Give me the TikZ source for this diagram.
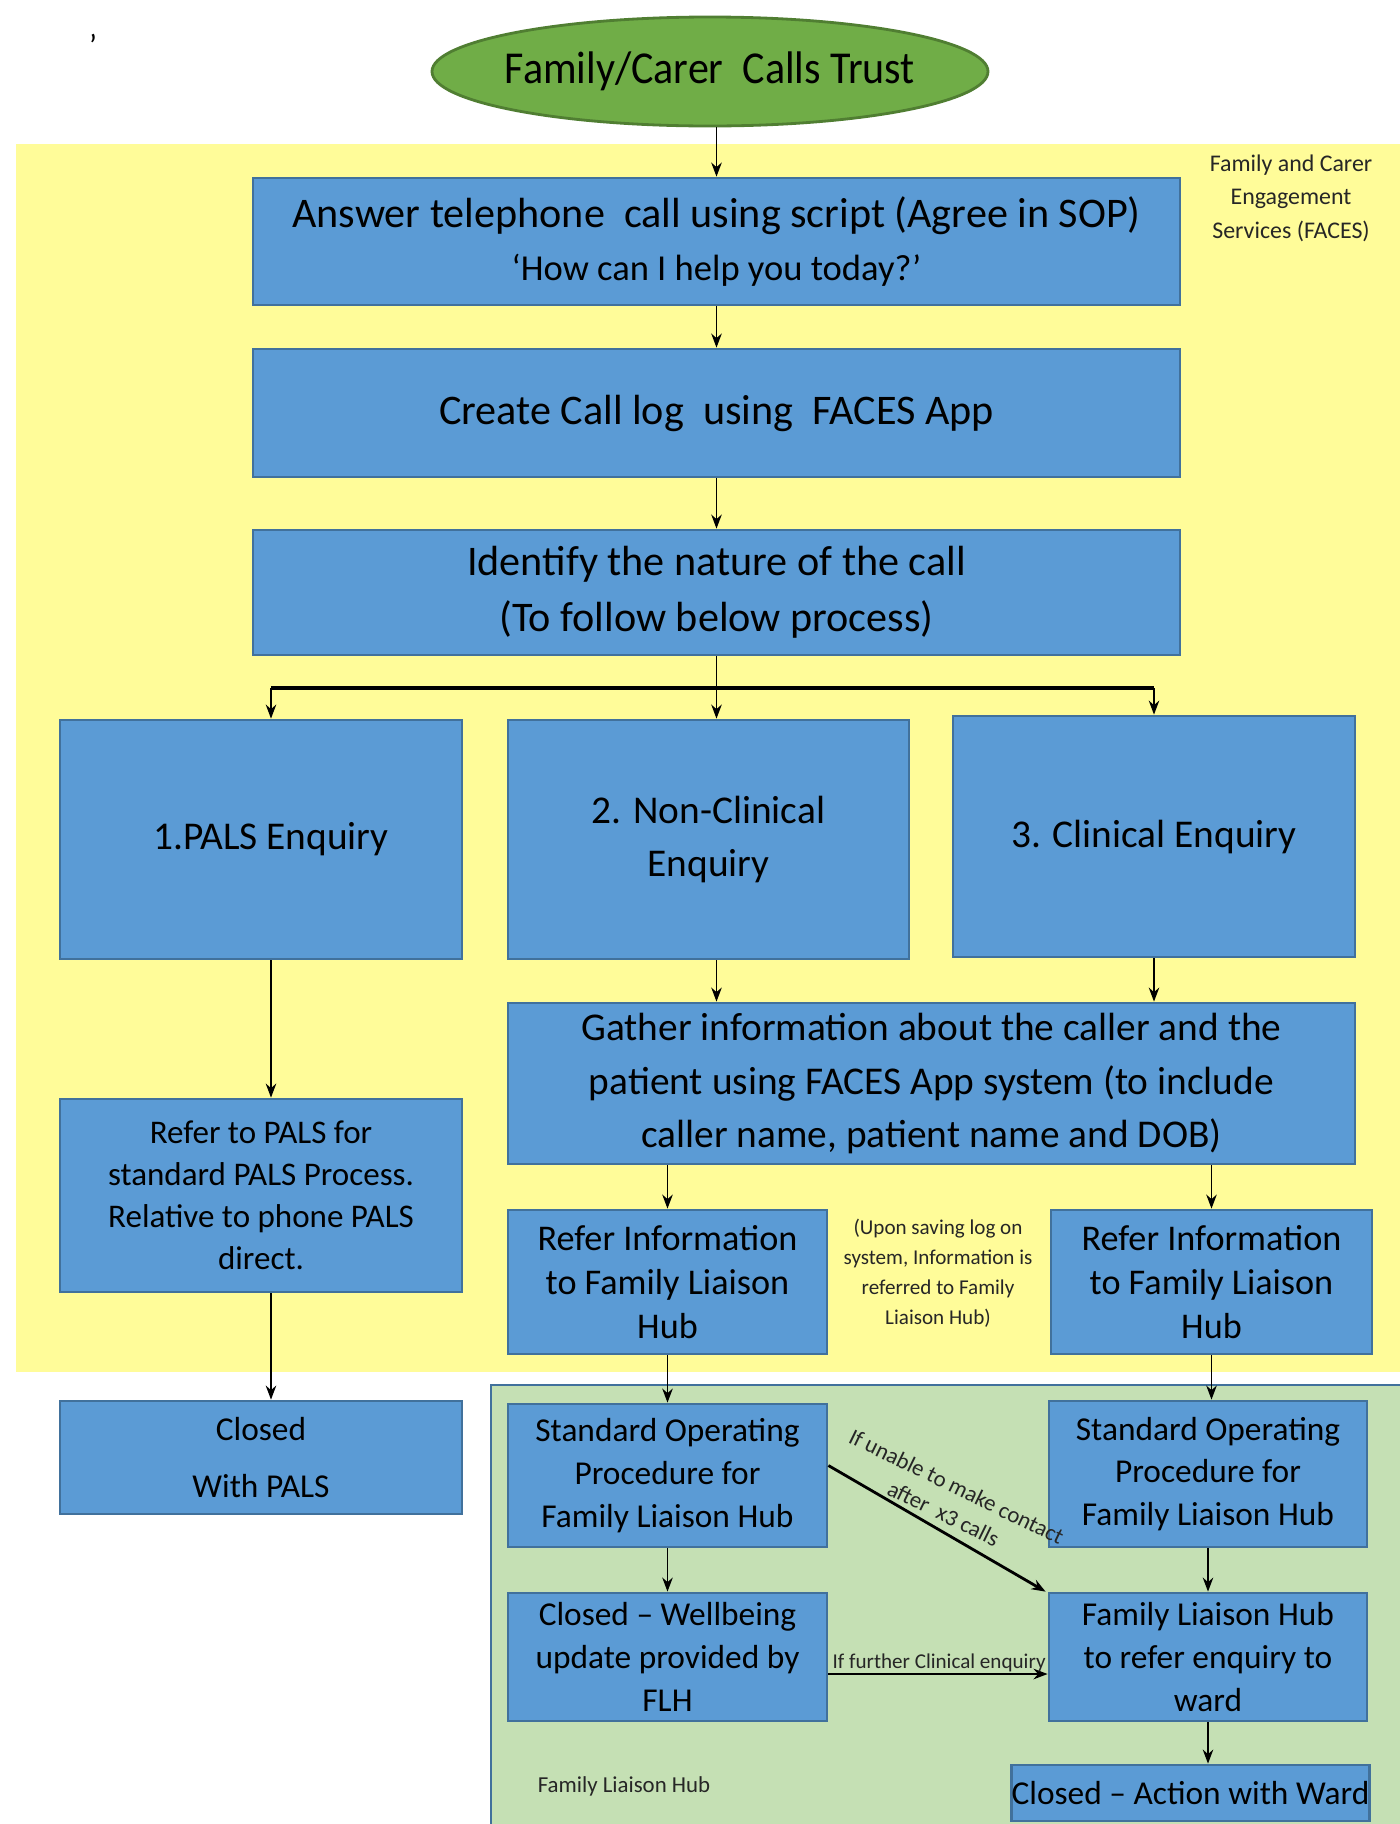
\documentclass[tikz,border=0pt]{standalone}
\usepackage{fontspec}
\setmainfont{Carlito}
\usetikzlibrary{shapes.geometric, arrows.meta, positioning}
\definecolor{boxblue}{HTML}{5B9BD5}
\definecolor{boxline}{HTML}{41719C}
\definecolor{zoneyellow}{HTML}{FFFC99}
\definecolor{zonegreen}{HTML}{C5E0B4}
\definecolor{startgreen}{HTML}{70AD47}
\definecolor{startline}{HTML}{507E32}
\tikzset{
  stepbox/.style={draw=boxline, fill=boxblue, line width=0.8pt, align=center, inner sep=0pt},
  bigtxt/.style={font=\fontsize{12}{16}\selectfont},
  midtxt/.style={font=\fontsize{9.5}{12.2}\selectfont},
  smalltxt/.style={font=\fontsize{6}{8.5}\selectfont, text=black!85, align=center},
}
\begin{document}
\begin{tikzpicture}[>={Stealth[length=4pt,width=3pt]}]
\useasboundingbox (0,0) rectangle (14,-18.24);
% --- zones ---
\fill[zoneyellow] (0.16,-1.44) rectangle (14,-13.72);
\filldraw[fill=zonegreen, draw=boxline, line width=0.8pt] (4.91,-13.85) rectangle (14.2,-18.4);
\node[smalltxt, font=\fontsize{6.8}{9.5}\selectfont] (faces) at (12.91,-1.98) {Family and Carer\\Engagement\\Services (FACES)};
\node[smalltxt, font=\fontsize{6.5}{8}\selectfont] (hublbl) at (6.24,-17.86) {Family Liaison Hub};
\node[font=\fontsize{9}{9}\selectfont] (tick) at (0.93,-0.45) {'};
% --- start ---
\node[ellipse, draw=startline, fill=startgreen, line width=0.8pt, inner sep=0pt, minimum width=5.56cm, minimum height=1.09cm] (start) at (7.1,-0.715)
  {\makebox[3.4cm][c]{\scalebox{0.92}[1]{\fontsize{13}{15}\selectfont Family/Carer~~Calls Trust}}};
% --- main column ---
\node[stepbox, minimum width=9.27cm, minimum height=1.27cm] (answer) at (7.165,-2.415)
  {{\fontsize{12}{13}\selectfont Answer telephone~~call using script (Agree in SOP)}\\[3pt]{\fontsize{10.4}{12}\selectfont ‘How can I help you today?’}};
\node[stepbox, bigtxt, minimum width=9.27cm, minimum height=1.28cm] (calllog) at (7.165,-4.13) {Create Call log~~using~~FACES App};
\node[stepbox, bigtxt, minimum width=9.27cm, minimum height=1.25cm] (ident) at (7.165,-5.925) {Identify the nature of the call\\(To follow below process)};
% --- enquiry types ---
\node[stepbox, font=\fontsize{11.2}{15}\selectfont, minimum width=4.02cm, minimum height=2.39cm] (pals) at (2.61,-8.395) {\hspace{0.2cm}1.PALS Enquiry};
\node[stepbox, font=\fontsize{11.2}{15}\selectfont, minimum width=4.01cm, minimum height=2.39cm] (nonclin) at (7.085,-8.395) {2. Non-Clinical\\Enquiry};
\node[stepbox, font=\fontsize{11.2}{15}\selectfont, minimum width=4.02cm, minimum height=2.41cm] (clin) at (11.54,-8.365) {3. Clinical Enquiry};
\coordinate (fork) at (7.17,-6.88);
% --- PALS route ---
\node[stepbox, font=\fontsize{9.4}{12}\selectfont, minimum width=4.02cm, minimum height=1.93cm] (referpals) at (2.61,-11.955) {Refer to PALS for\\standard PALS Process.\\Relative to phone PALS\\direct.};
\node[stepbox, font=\fontsize{9.5}{16}\selectfont, minimum width=4.02cm, minimum height=1.13cm] (cpals) at (2.61,-14.575) {Closed\\With PALS};
% --- FACES App route ---
\node[stepbox, font=\fontsize{11.2}{15.3}\selectfont, minimum width=8.47cm, minimum height=1.61cm] (gather) at (9.315,-10.835) {Gather information about the caller and the\\patient using FACES App system (to include\\caller name, patient name and DOB)};
\node[stepbox, font=\fontsize{10.3}{12.6}\selectfont, minimum width=3.19cm, minimum height=1.44cm] (referL) at (6.675,-12.82) {Refer Information\\to Family Liaison\\Hub};
\node[stepbox, font=\fontsize{10.3}{12.6}\selectfont, minimum width=3.21cm, minimum height=1.44cm] (referR) at (12.115,-12.82) {Refer Information\\to Family Liaison\\Hub};
\node[smalltxt] (note) at (9.38,-12.73) {(Upon saving log on\\system, Information is\\referred to Family\\Liaison Hub)};
% --- Family Liaison Hub ---
\node[stepbox, midtxt, minimum width=3.19cm, minimum height=1.43cm] (sopL) at (6.675,-14.755) {Standard Operating\\Procedure for\\Family Liaison Hub};
\node[stepbox, midtxt, minimum width=3.18cm, minimum height=1.46cm] (sopR) at (12.08,-14.74) {Standard Operating\\Procedure for\\Family Liaison Hub};
\node[stepbox, midtxt, minimum width=3.19cm, minimum height=1.28cm] (cwell) at (6.675,-16.57) {Closed -- Wellbeing\\update provided by\\FLH};
\node[stepbox, midtxt, minimum width=3.18cm, minimum height=1.28cm] (flh) at (12.08,-16.57) {Family Liaison Hub\\to refer enquiry to\\ward};
\node[stepbox, midtxt, minimum width=3.53cm, minimum height=0.56cm] (cward) at (11.905,-17.93) {Closed -- Action with Ward};
% --- connectors ---
\draw[->] (start.south -| answer.north) -- (answer.north);
\draw[->] (answer) -- (calllog);
\draw[->] (calllog) -- (ident);
\draw[->] (ident.south) -- (ident.south |- nonclin.north);
\draw[line width=1.2pt] ([xshift=0.1cm]pals.north |- fork) -- (clin.north |- fork);
\draw[->] ([xshift=0.1cm]pals.north |- fork) -- ([xshift=0.1cm]pals.north);
\draw[->] (clin.north |- fork) -- (clin.north);
\draw[->] ([xshift=0.1cm]pals.south) -- ([xshift=0.1cm]referpals.north);
\draw[->] ([xshift=0.1cm]referpals.south) -- ([xshift=0.1cm]cpals.north);
\draw[->] (ident.south |- nonclin.south) -- (ident.south |- gather.north);
\draw[->] (clin.south) -- (clin.south |- gather.north);
\draw[->] (referL.north |- gather.south) -- (referL.north);
\draw[->] (referR.north |- gather.south) -- (referR.north);
\draw[->] (referL) -- (sopL);
\draw[->] (referR.south) -- (referR.south |- sopR.north);
\draw[->] (sopL) -- (cwell);
\draw[->] (sopR) -- (flh);
\draw[->] (flh.south) -- (flh.south |- cward.north);
\draw[->, line width=0.8pt] ([yshift=0.1cm]sopL.east) -- ([xshift=-0.02cm]flh.north west);
\node[smalltxt, font=\fontsize{6.5}{8.5}\selectfont, rotate=-26] (nocontact) at (9.5,-15.0) {If unable to make contact\\after~~x3 calls};
\draw[->, line width=0.8pt] ([yshift=-0.17cm]cwell.east) -- ([yshift=-0.17cm]flh.west);
\node[smalltxt, inner sep=1pt, anchor=south west] (further) at ([yshift=-0.19cm]cwell.east) {If further Clinical enquiry};
\end{tikzpicture}
\end{document}
